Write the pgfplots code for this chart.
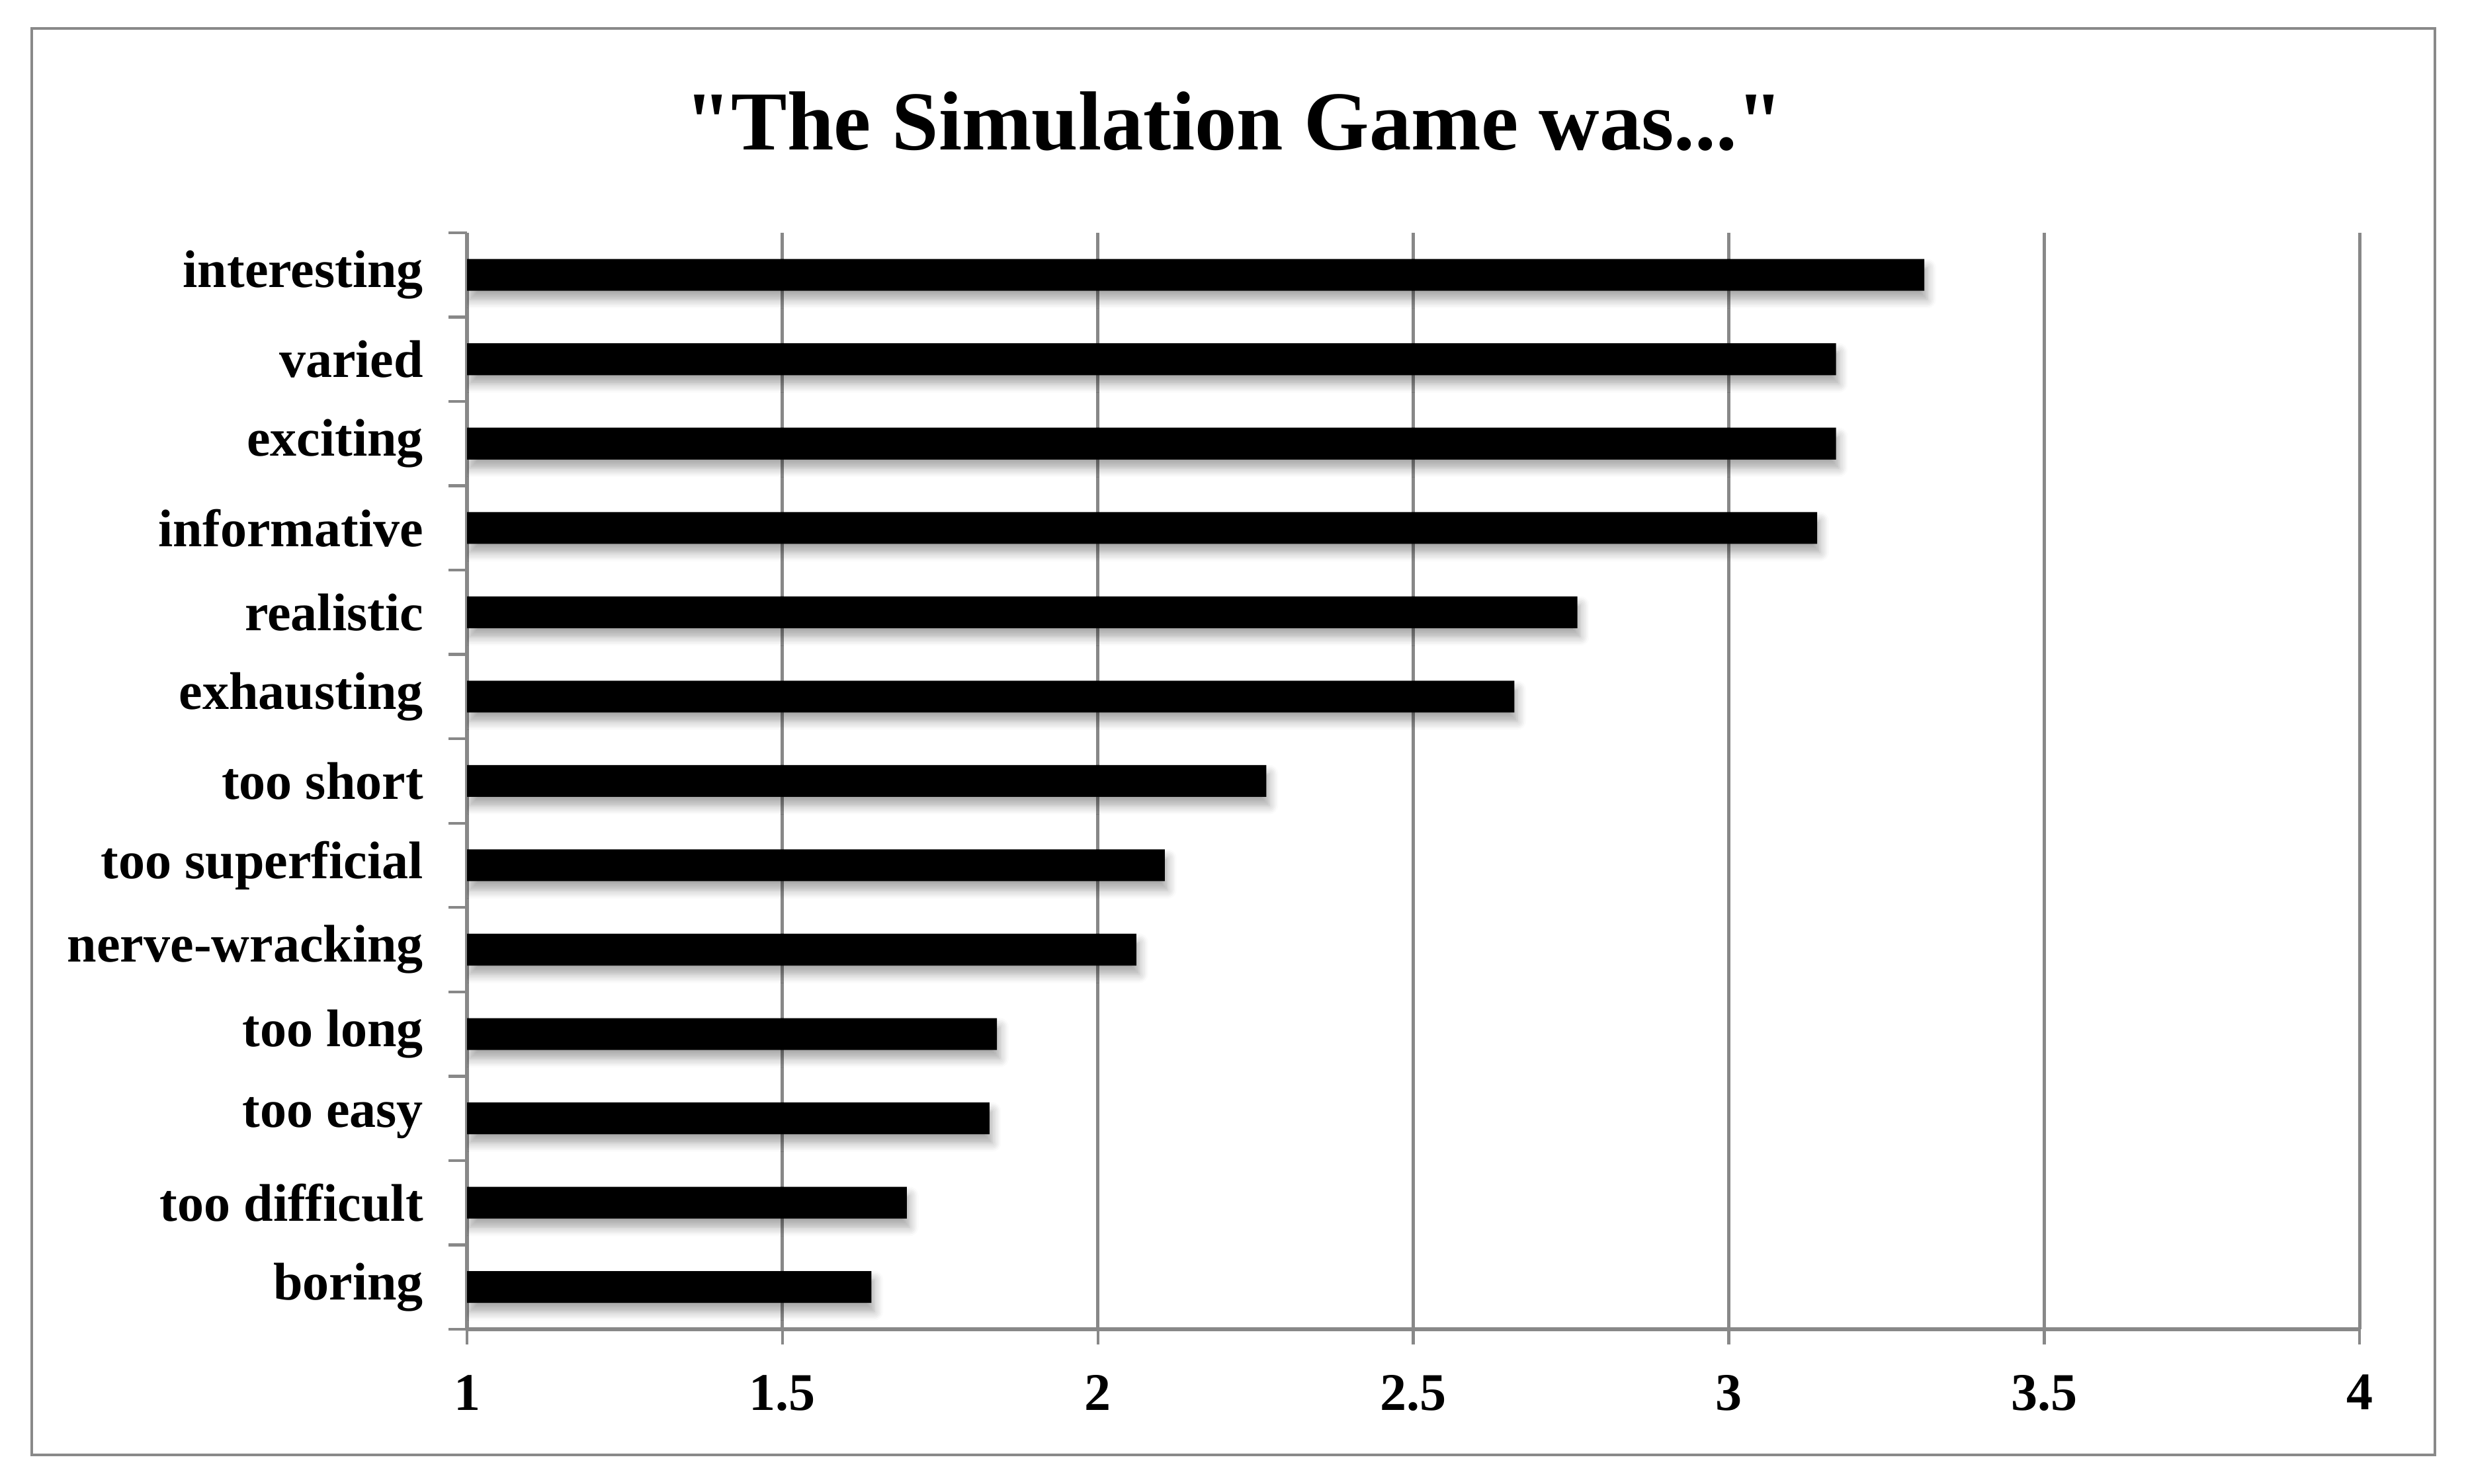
\documentclass[border=0pt]{standalone}
\usepackage{fontspec}
\setmainfont{Liberation Serif}
\newfontfamily\titlefont{Liberation Serif}
\usepackage{pgfplots}
\pgfplotsset{compat=1.18}
\usetikzlibrary{shadows.blur}

\definecolor{framegray}{HTML}{898989}
\definecolor{gridgray}{HTML}{888888}

\begin{document}
\begin{tikzpicture}
\path[use as bounding box] (-3.409,-1.130) rectangle (14.590,9.704);
\draw[framegray, line width=0.6pt] (-3.177,-0.917) rectangle (14.363,9.497);

\begin{axis}[
  scale only axis,
  width=13.814cm, height=8.005cm,
  at={(0,0)}, anchor=south west,
  xmin=1, xmax=4, ymin=-0.5, ymax=12.5,
  xtick={1,1.5,...,4},
  ytick={0,...,12},
  yticklabels={boring,too difficult,too easy,too long,nerve-wracking,too superficial,too short,exhausting,realistic,informative,exciting,varied,interesting},
  minor ytick={-0.5,0.5,...,12.5},
  axis lines*=left,
  axis line style={gridgray, line width=0.9pt},
  tick align=outside,
  major tick length=0.11cm,
  minor tick length=0.135cm,
  major y tick style={draw=none},
  minor y tick style={gridgray, line width=0.6pt},
  major x tick style={gridgray, line width=0.6pt},
  xmajorgrids,
  major x grid style={gridgray, line width=0.7pt},
  every tick label/.append style={font=\fontsize{11}{13}\selectfont\bfseries},
  /pgf/number format/assume math mode=true,
  y tick label style={xshift=-0.085cm},
  x tick label style={yshift=-0.1cm},
  xbar, bar width=0.232cm, bar shift=0pt,
]
\addplot[fill=black, draw=none,
  blur shadow={shadow xshift=0.6pt, shadow yshift=-1.8pt, shadow blur steps=6, shadow opacity=35}]
  table {
x y
1.641 0
1.697 1
1.828 2
1.840 3
2.061 4
2.106 5
2.267 6
2.66 7
2.76 8
3.14 9
3.17 10
3.17 11
3.31 12
};
\end{axis}

\node[font=\titlefont\fontsize{17.4}{20}\selectfont\bfseries] at (5.60,8.82) {"The Simulation Game was..."};
\end{tikzpicture}
\end{document}
